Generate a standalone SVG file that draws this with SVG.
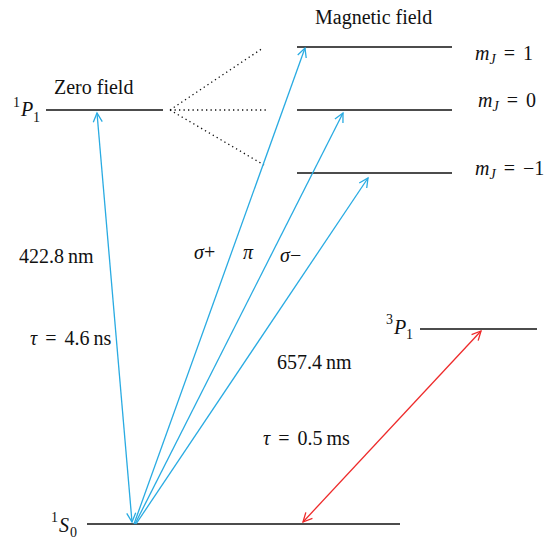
<svg xmlns="http://www.w3.org/2000/svg" width="554" height="541" viewBox="0 0 554 541">
<style>
text{font-family:"Liberation Serif","Times New Roman",serif;font-size:20px;fill:#111}
.i{font-style:italic}
.s{font-size:14px}
.w{word-spacing:3px}
.lvl{stroke:#111;stroke-width:1.6}
.dot{stroke:#111;stroke-width:1.3;stroke-dasharray:1.3 3.2}
.b{stroke:#29abe2;stroke-width:1.3;fill:none}
.r{stroke:#ee2a2a;stroke-width:1.3;fill:none}
</style>
<defs>
<marker id="ab" markerUnits="userSpaceOnUse" markerWidth="14" markerHeight="14" viewBox="-12 -7 14 14" refX="0" refY="0" orient="auto-start-reverse"><path d="M-9,-4.5 L0,0 L-9,4.5" fill="none" stroke="#29abe2" stroke-width="1.3"/></marker>
<marker id="ar" markerUnits="userSpaceOnUse" markerWidth="14" markerHeight="14" viewBox="-12 -7 14 14" refX="0" refY="0" orient="auto-start-reverse"><path d="M-9,-4.5 L0,0 L-9,4.5" fill="none" stroke="#ee2a2a" stroke-width="1.3"/></marker>
</defs>
<g id="P1zero">
<line class="lvl" x1="46" y1="110" x2="163" y2="110"/>
<text x="54" y="94">Zero field</text>
<text class="s" x="13" y="107">1</text>
<text class="i" x="21" y="116">P</text>
<text class="s" x="33" y="122">1</text>
</g>
<g id="title"><text x="315" y="24">Magnetic field</text></g>
<g id="mJ1">
<line class="lvl" x1="297" y1="47" x2="452" y2="47"/>
<text class="w" x="475" y="60"><tspan class="i">m</tspan><tspan class="i s" dy="4">J</tspan><tspan dy="-4"> = 1</tspan></text>
</g>
<g id="mJ0">
<line class="lvl" x1="297" y1="110" x2="452" y2="110"/>
<text class="w" x="478" y="107"><tspan class="i">m</tspan><tspan class="i s" dy="4">J</tspan><tspan dy="-4"> = 0</tspan></text>
</g>
<g id="mJm1">
<line class="lvl" x1="297" y1="173" x2="452" y2="173"/>
<text class="w" x="475" y="175"><tspan class="i">m</tspan><tspan class="i s" dy="4">J</tspan><tspan dy="-4"> = −1</tspan></text>
</g>
<g id="P3">
<line class="lvl" x1="420" y1="329" x2="537" y2="329"/>
<text class="s" x="386" y="324">3</text>
<text class="i" x="394" y="334">P</text>
<text class="s" x="406" y="339">1</text>
</g>
<g id="S0">
<line class="lvl" x1="87" y1="524" x2="400" y2="524"/>
<text class="s" x="51" y="522">1</text>
<text class="i" x="59" y="532">S</text>
<text class="s" x="70" y="537">0</text>
</g>
<g id="labels">
<text x="19" y="263">422.8&#8201;nm</text>
<text class="w" x="30" y="345"><tspan class="i">τ</tspan> = 4.6&#8201;ns</text>
<text class="i" x="194" y="259">σ<tspan style="font-style:normal">+</tspan></text>
<text class="i" x="243" y="259">π</text>
<text class="i" x="280" y="262">σ<tspan style="font-style:normal">−</tspan></text>
<text x="277" y="369">657.4&#8201;nm</text>
<text class="w" x="263" y="445"><tspan class="i">τ</tspan> = 0.5&#8201;ms</text>
</g>
<g id="connectors">
<line class="dot" x1="170" y1="110" x2="263" y2="48"/>
<line class="dot" x1="170" y1="110" x2="268" y2="110"/>
<line class="dot" x1="170" y1="110" x2="264" y2="165"/>
<line class="b" x1="132" y1="522" x2="97" y2="113" marker-start="url(#ab)" marker-end="url(#ab)"/>
<line class="b" x1="134" y1="524" x2="305" y2="48" marker-end="url(#ab)"/>
<line class="b" x1="135" y1="524" x2="343" y2="113" marker-end="url(#ab)"/>
<line class="b" x1="136" y1="524" x2="368" y2="178" marker-end="url(#ab)"/>
<line class="r" x1="303" y1="522" x2="481" y2="331" marker-start="url(#ar)" marker-end="url(#ar)"/>
</g>
</svg>
